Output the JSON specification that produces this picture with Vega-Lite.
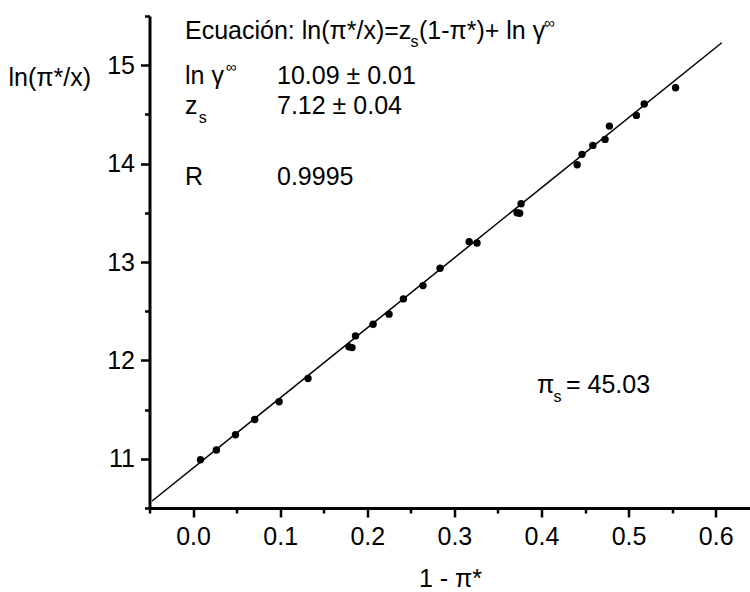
{
  "$schema": "https://vega.github.io/schema/vega-lite/v6.json",
  "autosize": {"type": "none"},
  "padding": {"left": 149.5, "top": 16, "right": 0, "bottom": 84},
  "width": 601,
  "height": 492,
  "background": "white",
  "config": {
    "view": {"stroke": null},
    "font": "Liberation Sans",
    "axis": {"domainWidth": 3, "domainColor": "black", "tickWidth": 2.5, "tickColor": "black", "grid": false},
    "text": {"font": "Liberation Sans", "fontSize": 25, "color": "black", "align": "left", "baseline": "alphabetic"}
  },
  "datasets": {
    "pts": [
      {"one_minus_pi": 0.0085, "ln_ratio": 10.99},
      {"one_minus_pi": 0.0268, "ln_ratio": 11.089},
      {"one_minus_pi": 0.0487, "ln_ratio": 11.244},
      {"one_minus_pi": 0.0708, "ln_ratio": 11.40},
      {"one_minus_pi": 0.0988, "ln_ratio": 11.579},
      {"one_minus_pi": 0.132, "ln_ratio": 11.816},
      {"one_minus_pi": 0.179, "ln_ratio": 12.138},
      {"one_minus_pi": 0.1825, "ln_ratio": 12.13},
      {"one_minus_pi": 0.1865, "ln_ratio": 12.249},
      {"one_minus_pi": 0.2067, "ln_ratio": 12.368},
      {"one_minus_pi": 0.225, "ln_ratio": 12.47},
      {"one_minus_pi": 0.2415, "ln_ratio": 12.625},
      {"one_minus_pi": 0.264, "ln_ratio": 12.76},
      {"one_minus_pi": 0.2836, "ln_ratio": 12.937},
      {"one_minus_pi": 0.317, "ln_ratio": 13.207},
      {"one_minus_pi": 0.326, "ln_ratio": 13.193},
      {"one_minus_pi": 0.372, "ln_ratio": 13.501},
      {"one_minus_pi": 0.375, "ln_ratio": 13.495},
      {"one_minus_pi": 0.3766, "ln_ratio": 13.592},
      {"one_minus_pi": 0.441, "ln_ratio": 13.988},
      {"one_minus_pi": 0.4466, "ln_ratio": 14.094},
      {"one_minus_pi": 0.459, "ln_ratio": 14.185},
      {"one_minus_pi": 0.473, "ln_ratio": 14.246},
      {"one_minus_pi": 0.478, "ln_ratio": 14.381},
      {"one_minus_pi": 0.509, "ln_ratio": 14.49},
      {"one_minus_pi": 0.518, "ln_ratio": 14.605},
      {"one_minus_pi": 0.554, "ln_ratio": 14.77}
    ],
    "fit": [
      {"one_minus_pi": -0.047, "ln_ratio": 10.571},
      {"one_minus_pi": 0.607, "ln_ratio": 15.228}
    ],
    "one": [{}]
  },
  "layer": [
    {
      "data": {"name": "fit"},
      "mark": {"type": "line", "color": "black", "strokeWidth": 1.5},
      "encoding": {
        "x": {
          "field": "one_minus_pi", "type": "quantitative",
          "scale": {"domain": [-0.05, 0.64], "nice": false, "zero": false},
          "axis": {
            "title": "1 - π*",
            "values": [-0.05, 0, 0.05, 0.1, 0.15, 0.2, 0.25, 0.3, 0.35, 0.4, 0.45, 0.5, 0.55, 0.6],
            "labelExpr": "abs(datum.value * 10 - round(datum.value * 10)) < 0.001 ? format(datum.value, '.1f') : ''",
            "tickSize": {"condition": {"test": "abs(datum.value * 10 - round(datum.value * 10)) < 0.001", "value": 9}, "value": 5},
            "grid": false,
            "domainColor": "black", "domainWidth": 3,
            "tickColor": "black", "tickWidth": 2.5,
            "labelFont": "Liberation Sans", "labelFontSize": 25, "labelColor": "black",
            "labelPadding": 7, "labelFlush": false, "labelOverlap": false,
            "titleFont": "Liberation Sans", "titleFontSize": 25, "titleFontWeight": "normal", "titleColor": "black",
            "titleBaseline": "alphabetic", "titleY": 78
          }
        },
        "y": {
          "field": "ln_ratio", "type": "quantitative",
          "scale": {"domain": [10.5, 15.5], "nice": false, "zero": false},
          "axis": {
            "title": "ln(π*/x)",
            "values": [10.5, 11, 11.5, 12, 12.5, 13, 13.5, 14, 14.5, 15, 15.5],
            "labelExpr": "abs(datum.value - round(datum.value)) < 0.001 ? format(datum.value, 'd') : ''",
            "tickSize": {"condition": {"test": "abs(datum.value - round(datum.value)) < 0.001", "value": 9}, "value": 5},
            "grid": false,
            "domainColor": "black", "domainWidth": 3,
            "tickColor": "black", "tickWidth": 2.5,
            "labelFont": "Liberation Sans", "labelFontSize": 25, "labelColor": "black",
            "labelPadding": 6, "labelFlush": false, "labelOverlap": false,
            "titleFont": "Liberation Sans", "titleFontSize": 25, "titleFontWeight": "normal", "titleColor": "black",
            "titleAngle": 0, "titleAlign": "left", "titleBaseline": "alphabetic",
            "titleX": -141.5, "titleY": 69
          }
        }
      }
    },
    {
      "data": {"name": "pts"},
      "mark": {"type": "point", "filled": true, "color": "black", "opacity": 1, "size": 55},
      "encoding": {
        "x": {"field": "one_minus_pi", "type": "quantitative"},
        "y": {"field": "ln_ratio", "type": "quantitative"}
      }
    },
    {"data": {"name": "one"}, "mark": {"type": "text", "text": "Ecuación: ln(π*/x)=z"},
     "encoding": {"x": {"datum": -0.00924, "type": "quantitative"}, "y": {"datum": 15.266, "type": "quantitative"}}},
    {"data": {"name": "one"}, "mark": {"type": "text", "text": "s", "fontSize": 16},
     "encoding": {"x": {"datum": 0.2496, "type": "quantitative"}, "y": {"datum": 15.185, "type": "quantitative"}}},
    {"data": {"name": "one"}, "mark": {"type": "text", "text": "(1-π*)+ ln γ"},
     "encoding": {"x": {"datum": 0.2593, "type": "quantitative"}, "y": {"datum": 15.266, "type": "quantitative"}}},
    {"data": {"name": "one"}, "mark": {"type": "text", "text": "∞", "fontSize": 15},
     "encoding": {"x": {"datum": 0.4028, "type": "quantitative"}, "y": {"datum": 15.378, "type": "quantitative"}}},
    {"data": {"name": "one"}, "mark": {"type": "text", "text": "ln γ"},
     "encoding": {"x": {"datum": -0.00924, "type": "quantitative"}, "y": {"datum": 14.809, "type": "quantitative"}}},
    {"data": {"name": "one"}, "mark": {"type": "text", "text": "∞", "fontSize": 15},
     "encoding": {"x": {"datum": 0.0375, "type": "quantitative"}, "y": {"datum": 14.931, "type": "quantitative"}}},
    {"data": {"name": "one"}, "mark": {"type": "text", "text": "10.09 ± 0.01"},
     "encoding": {"x": {"datum": 0.0964, "type": "quantitative"}, "y": {"datum": 14.809, "type": "quantitative"}}},
    {"data": {"name": "one"}, "mark": {"type": "text", "text": "z"},
     "encoding": {"x": {"datum": -0.00924, "type": "quantitative"}, "y": {"datum": 14.504, "type": "quantitative"}}},
    {"data": {"name": "one"}, "mark": {"type": "text", "text": "s", "fontSize": 16},
     "encoding": {"x": {"datum": 0.0065, "type": "quantitative"}, "y": {"datum": 14.409, "type": "quantitative"}}},
    {"data": {"name": "one"}, "mark": {"type": "text", "text": "7.12 ± 0.04"},
     "encoding": {"x": {"datum": 0.0964, "type": "quantitative"}, "y": {"datum": 14.504, "type": "quantitative"}}},
    {"data": {"name": "one"}, "mark": {"type": "text", "text": "R"},
     "encoding": {"x": {"datum": -0.00924, "type": "quantitative"}, "y": {"datum": 13.78, "type": "quantitative"}}},
    {"data": {"name": "one"}, "mark": {"type": "text", "text": "0.9995"},
     "encoding": {"x": {"datum": 0.0964, "type": "quantitative"}, "y": {"datum": 13.78, "type": "quantitative"}}},
    {"data": {"name": "one"}, "mark": {"type": "text", "text": "π"},
     "encoding": {"x": {"datum": 0.3949, "type": "quantitative"}, "y": {"datum": 11.669, "type": "quantitative"}}},
    {"data": {"name": "one"}, "mark": {"type": "text", "text": "s", "fontSize": 16},
     "encoding": {"x": {"datum": 0.4138, "type": "quantitative"}, "y": {"datum": 11.577, "type": "quantitative"}}},
    {"data": {"name": "one"}, "mark": {"type": "text", "text": "= 45.03"},
     "encoding": {"x": {"datum": 0.4282, "type": "quantitative"}, "y": {"datum": 11.669, "type": "quantitative"}}}
  ]
}
